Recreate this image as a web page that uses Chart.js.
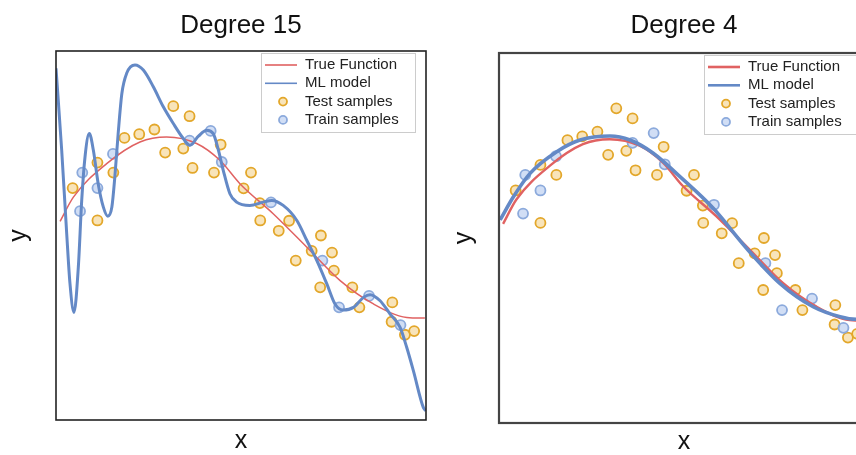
<!DOCTYPE html>
<html>
<head>
<meta charset="utf-8">
<script src="https://cdn.jsdelivr.net/npm/chart.js@4.4.1/dist/chart.umd.min.js"></script>
<style>
  html, body { margin: 0; padding: 0; background: #fff; overflow: hidden; width: 856px; height: 455px; }
  #wrap { position: relative; width: 856px; height: 455px; overflow: hidden; }
  canvas { position: absolute; top: 0; }
  #left { left: 0; }
  #right { left: 440px; }
</style>
</head>
<body>
<div id="wrap">
  <canvas id="left" width="440" height="455"></canvas>
  <canvas id="right" width="440" height="455"></canvas>
</div>
<script>
// samples (same in both panels)
var testX = [0.045, 0.112, 0.112, 0.155, 0.185, 0.225, 0.266, 0.295, 0.317, 0.344, 0.361, 0.369,
             0.445, 0.427, 0.507, 0.527, 0.551, 0.552, 0.602, 0.630, 0.648, 0.691, 0.716, 0.746,
             0.751, 0.714, 0.801, 0.820, 0.909, 0.907, 0.943, 0.968];
var testY = [0.514, 0.790, 0.163, 0.682, 1.058, 1.098, 1.149, 0.899, 1.402, 0.942, 1.293, 0.732,
             0.986, 0.682, 0.511, 0.682, 0.351, 0.163, 0.051, 0.160, -0.272, -0.166, 0.0, -0.185,
             -0.380, -0.562, -0.562, -0.779, -0.725, -0.935, -1.076, -1.036];
var trainX = [0.071, 0.065, 0.112, 0.154, 0.361, 0.418, 0.448, 0.581, 0.720, 0.765, 0.846, 0.931];
var trainY = [0.682, 0.264, 0.514, 0.884, 1.029, 1.134, 0.797, 0.359, -0.272, -0.779, -0.655, -0.971];

// true function
var trueX = [0.011, 0.047, 0.137, 0.227, 0.299, 0.380, 0.443, 0.497, 0.587, 0.678, 0.768, 0.858, 0.948, 0.997];
var trueY = [0.152, 0.416, 0.779, 1.014, 1.068, 0.997, 0.815, 0.562, 0.236, -0.127, -0.489, -0.742, -0.888, -0.895];

// degree 15 fit
var deg15X = [0, 0.0154, 0.0289, 0.0378, 0.0486, 0.0603, 0.0695, 0.0784, 0.090, 0.101, 0.114, 0.128,
              0.140, 0.151, 0.159, 0.168, 0.178, 0.191, 0.2135, 0.236, 0.263, 0.290, 0.317, 0.344,
              0.362, 0.385, 0.407, 0.425, 0.439, 0.452, 0.470, 0.488, 0.524, 0.560, 0.583, 0.614,
              0.651, 0.678, 0.705, 0.732, 0.754, 0.776, 0.804, 0.831, 0.849, 0.876, 0.903, 0.930,
              0.948, 0.966, 0.993, 1.0];
var deg15Y = [1.812, 0.924, 0.022, -0.522, -0.834, -0.345, 0.380, 0.851, 1.105, 0.924, 0.562, 0.308,
              0.210, 0.308, 0.634, 1.105, 1.540, 1.758, 1.848, 1.793, 1.612, 1.395, 1.214, 1.051,
              0.978, 1.076, 1.141, 1.105, 0.924, 0.707, 0.453, 0.362, 0.326, 0.362, 0.380, 0.326,
              0.163, -0.054, -0.272, -0.525, -0.742, -0.808, -0.779, -0.671, -0.641, -0.707, -0.851, -0.997,
              -1.214, -1.467, -1.866, -1.90];

// degree 4 fit
var deg4X = [0.003, 0.039, 0.084, 0.156, 0.219, 0.300, 0.354, 0.417, 0.489, 0.579, 0.669, 0.759, 0.849, 0.922, 0.965, 1.0];
var deg4Y = [0.195, 0.446, 0.699, 0.933, 1.059, 1.103, 1.059, 0.916, 0.663, 0.321, -0.111, -0.490, -0.743, -0.851, -0.879, -0.87];

var redLine = '#e06262';
var blueLine = '#6489c6';
var testColors = ['rgba(243, 205, 130, 0.55)', '#e3a72a'];
var trainColors = ['rgba(178, 200, 238, 0.6)', '#8caadc'];
var fontFamily = '"Liberation Sans", Arial, Helvetica, sans-serif';

function toPoints(xs, ys) {
    return xs.map(function (x, i) { return {x: x, y: ys[i]}; });
}

// box round the plot and the legend inside it
var frameLegend = {
    id: 'frameLegend',
    afterDatasetsDraw: function (chart, args, opts) {
        var ctx = chart.ctx, a = chart.chartArea;
        ctx.save();
        ctx.strokeStyle = opts.frameColor;
        ctx.lineWidth = opts.frameWidth;
        ctx.strokeRect(a.left, a.top, a.right - a.left, a.bottom - a.top);

        var bx = a.left + 205, by = a.top + opts.legendTop, bw = 154, bh = 79;
        ctx.fillStyle = 'rgba(255,255,255,0.85)';
        ctx.fillRect(bx, by, bw, bh);
        ctx.strokeStyle = '#cccccc';
        ctx.lineWidth = 1;
        ctx.strokeRect(bx + 0.5, by + 0.5, bw, bh);

        ctx.font = '15px ' + fontFamily;
        ctx.textBaseline = 'middle';
        chart.data.datasets.forEach(function (ds, i) {
            var y = by + 12 + i * 18.3;
            if (ds.showLine) {
                ctx.strokeStyle = ds.borderColor;
                ctx.lineWidth = opts.legendLineWidth;
                ctx.beginPath();
                ctx.moveTo(bx + 4, y);
                ctx.lineTo(bx + 36, y);
                ctx.stroke();
            } else {
                ctx.beginPath();
                ctx.arc(bx + 22, y, 4, 0, Math.PI * 2);
                ctx.fillStyle = ds.backgroundColor;
                ctx.fill();
                ctx.strokeStyle = ds.borderColor;
                ctx.lineWidth = ds.borderWidth;
                ctx.stroke();
            }
            ctx.fillStyle = '#222';
            ctx.fillText(ds.label, bx + 44, y);
        });
        ctx.restore();
    }
};

function makeChart(id, titleText, modelX, modelY, cfg) {
    var ctx = document.getElementById(id).getContext('2d');
    return new Chart(ctx, {
        type: 'scatter',
        data: {
            datasets: [{
                label: 'True Function',
                data: toPoints(trueX, trueY),
                showLine: true,
                borderColor: redLine,
                borderWidth: cfg.redWidth,
                pointRadius: 0,
                cubicInterpolationMode: 'monotone',
                order: 1
            },
            {
                label: 'ML model',
                data: toPoints(modelX, modelY),
                showLine: true,
                borderColor: blueLine,
                borderWidth: cfg.blueWidth,
                pointRadius: 0,
                cubicInterpolationMode: 'monotone',
                order: 0
            },
            {
                label: 'Test samples',
                data: toPoints(testX, testY),
                backgroundColor: testColors[0],
                borderColor: testColors[1],
                borderWidth: 1.8,
                pointRadius: 5,
                order: 3
            },
            {
                label: 'Train samples',
                data: toPoints(trainX, trainY),
                backgroundColor: trainColors[0],
                borderColor: trainColors[1],
                borderWidth: 1.8,
                pointRadius: 5,
                order: 2
            }]
        },
        options: {
            responsive: false,
            animation: false,
            devicePixelRatio: 1,
            layout: {
                autoPadding: false,
                padding: {left: 0, right: cfg.padRight, top: 0, bottom: 0}
            },
            scales: {
                x: {
                    type: 'linear', min: 0, max: 1,
                    grid: {display: false, drawTicks: false},
                    border: {display: false},
                    ticks: {display: false},
                    title: {display: true, text: 'x', color: '#111',
                            font: {family: fontFamily, size: 25, lineHeight: 1},
                            padding: cfg.xPad}
                },
                y: {
                    type: 'linear', min: -2, max: 2,
                    grid: {display: false, drawTicks: false},
                    border: {display: false},
                    ticks: {display: false},
                    title: {display: true, text: 'y', color: '#111',
                            font: {family: fontFamily, size: 25, lineHeight: 1},
                            padding: cfg.yPad}
                }
            },
            plugins: {
                legend: {display: false},
                tooltip: {enabled: false},
                title: {
                    display: true,
                    fullSize: false,
                    text: titleText,
                    color: '#111',
                    font: {family: fontFamily, size: 26, weight: 'normal', lineHeight: 1},
                    padding: cfg.titlePad
                },
                frameLegend: {
                    frameColor: cfg.frameColor,
                    frameWidth: cfg.frameWidth,
                    legendTop: 2,
                    legendLineWidth: cfg.legendLineWidth
                }
            }
        },
        plugins: [frameLegend]
    });
}

var leftChart = makeChart('left', 'Degree 15', deg15X, deg15Y, {
    redWidth: 1.5, blueWidth: 3, padRight: 14,
    xPad: {top: 9, bottom: 1}, yPad: {top: 7, bottom: 24},
    titlePad: {top: 13, bottom: 12},
    frameColor: '#222', frameWidth: 1.6, legendLineWidth: 1.6
});

var rightChart = makeChart('right', 'Degree 4', deg4X, deg4Y, {
    redWidth: 2.4, blueWidth: 3.6, padRight: 11,
    xPad: {top: 7, bottom: 0}, yPad: {top: 11.5, bottom: 22.5},
    titlePad: {top: 13, bottom: 14},
    frameColor: '#444', frameWidth: 2.2, legendLineWidth: 2.6
});
</script>
</body>
</html>
